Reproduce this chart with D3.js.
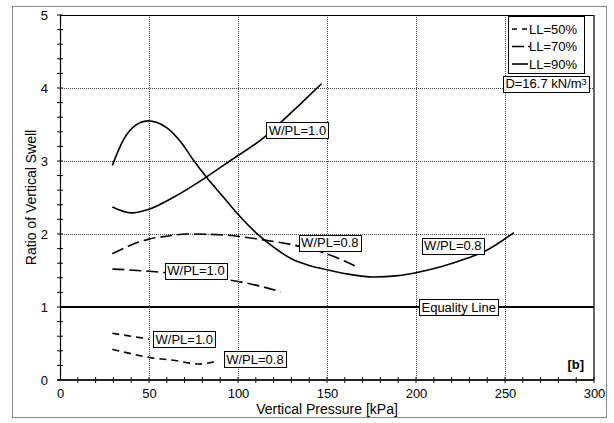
<!DOCTYPE html>
<html>
<head>
<meta charset="utf-8">
<script src="https://cdn.jsdelivr.net/npm/d3@7"></script>
<style>
  body { margin: 0; background: #fff; }
  text { font-family: Arial, 'Liberation Sans', sans-serif; fill: #000; }
  .axis text { font-size: 13px; }
  .axis-label { font-size: 14px; }
  .note text { font-size: 13px; }
</style>
</head>
<body>
<div id="chart-container"></div>
<script>
// tick values
const xTicks = [0, 50, 100, 150, 200, 250, 300]
const yTicks = [0, 1, 2, 3, 4, 5]

// LL=90% (solid)
const ll90Wpl08 = [
  [29.4, 2.94], [35.4, 3.28], [41, 3.46], [49.4, 3.55], [59.7, 3.46], [68.2, 3.25],
  [74.7, 3.02], [82.2, 2.78], [92, 2.5], [100, 2.27], [110, 2.02], [120, 1.82],
  [130, 1.66], [140, 1.57], [150, 1.51], [162, 1.45], [176, 1.41], [190, 1.43],
  [200, 1.47], [214, 1.55], [229, 1.67], [240, 1.78], [255, 2.02]
]
const ll90Wpl10 = [
  [29.4, 2.37], [40, 2.29], [50, 2.34], [63.5, 2.5], [82.2, 2.78], [96, 3.01],
  [115.5, 3.34], [124, 3.53], [135, 3.78], [147, 4.06]
]

// LL=70% (long dash)
const ll70Wpl08 = [
  [29.4, 1.73], [40, 1.85], [50, 1.93], [60, 1.97], [71, 2.0], [90, 1.99],
  [114, 1.92], [131, 1.85], [146, 1.76], [157, 1.66], [167, 1.55]
]
const ll70Wpl10 = [
  [29.4, 1.52], [50, 1.49], [75, 1.43], [95, 1.37], [110, 1.3], [124, 1.21]
]

// LL=50% (short dash)
const ll50Wpl10 = [[29.4, 0.64], [40, 0.6], [50, 0.56]]
const ll50Wpl08 = [
  [29.4, 0.42], [40, 0.36], [50, 0.31], [63.5, 0.27], [78.5, 0.22], [87.8, 0.26]
]

const legendLabels = ['LL=50%', 'LL=70%', 'LL=90%']

// boxed notes, placed in data units
const notes = [
  { text: 'W/PL=1.0', x: 133.4, y: 3.42 },
  { text: 'W/PL=0.8', x: 151.6, y: 1.88 },
  { text: 'W/PL=0.8', x: 220.7, y: 1.84 },
  { text: 'W/PL=1.0', x: 76.4, y: 1.5 },
  { text: 'W/PL=1.0', x: 69.8, y: 0.56 },
  { text: 'W/PL=0.8', x: 109.5, y: 0.285 },
  { text: 'Equality Line', x: 224, y: 1 }
]

const swellChart = () => {
  const margin = { top: 15, right: 20, bottom: 43, left: 60 }
  const width = 614 - margin.left - margin.right
  const height = 423 - margin.top - margin.bottom

  const root = d3
    .select('#chart-container')
    .append('svg')
    .attr('width', 614)
    .attr('height', 423)

  // outer frame
  root
    .append('rect')
    .attr('x', 12.5)
    .attr('y', 6.5)
    .attr('width', 594)
    .attr('height', 411)
    .attr('fill', 'none')
    .attr('stroke', '#888')
    .attr('stroke-width', 1)

  const svg = root.append('g').attr('transform', `translate(${margin.left}, ${margin.top})`)

  const xScale = d3.scaleLinear().domain([0, 300]).range([0, width])
  const yScale = d3.scaleLinear().domain([0, 5]).range([height, 0])

  // dotted grid
  svg
    .selectAll('.vgrid')
    .data(xTicks.slice(1, -1))
    .join('line')
    .attr('x1', (d) => xScale(d) + 0.5)
    .attr('x2', (d) => xScale(d) + 0.5)
    .attr('y1', 0)
    .attr('y2', height)
    .attr('stroke', '#444')
    .attr('stroke-dasharray', '1,1')

  svg
    .selectAll('.hgrid')
    .data([2, 3, 4])
    .join('line')
    .attr('x1', 0)
    .attr('x2', width)
    .attr('y1', (d) => yScale(d) + 0.5)
    .attr('y2', (d) => yScale(d) + 0.5)
    .attr('stroke', '#444')
    .attr('stroke-dasharray', '1,1')

  // top and right frame of the plot
  svg
    .append('path')
    .attr('d', `M0,0.5H${width}V${height}`)
    .attr('fill', 'none')
    .attr('stroke', '#000')
    .attr('stroke-width', 1.2)

  // equality line
  svg
    .append('line')
    .attr('x1', 0)
    .attr('x2', width)
    .attr('y1', yScale(1))
    .attr('y2', yScale(1))
    .attr('stroke', '#000')
    .attr('stroke-width', 2)

  // curves
  const line = d3
    .line()
    .x((d) => xScale(d[0]))
    .y((d) => yScale(d[1]))
    .curve(d3.curveMonotoneX)

  const series = [
    { data: ll90Wpl08, dash: null },
    { data: ll90Wpl10, dash: null },
    { data: ll70Wpl08, dash: '12,5' },
    { data: ll70Wpl10, dash: '12,5' },
    { data: ll50Wpl10, dash: '7,5' },
    { data: ll50Wpl08, dash: '7,5' }
  ]

  svg
    .selectAll('.curve')
    .data(series)
    .join('path')
    .attr('class', 'curve')
    .attr('d', (d) => line(d.data))
    .attr('fill', 'none')
    .attr('stroke', '#000')
    .attr('stroke-width', 1.6)
    .attr('stroke-dasharray', (d) => d.dash)

  // axes: labels from d3 axes, crossing ticks drawn by hand
  const xAxis = svg
    .append('g')
    .attr('class', 'axis')
    .attr('transform', `translate(0, ${height})`)
    .call(d3.axisBottom(xScale).tickValues(xTicks).tickSize(0).tickPadding(9))
  xAxis.select('.domain').remove()

  const yAxis = svg
    .append('g')
    .attr('class', 'axis')
    .call(d3.axisLeft(yScale).tickValues(yTicks).tickFormat(d3.format('d')).tickSize(0).tickPadding(12))
  yAxis.select('.domain').remove()

  svg
    .selectAll('.xtick')
    .data(d3.range(10, 301, 10))
    .join('line')
    .attr('x1', (d) => xScale(d))
    .attr('x2', (d) => xScale(d))
    .attr('y1', height - 3)
    .attr('y2', height + 3)
    .attr('stroke', '#000')

  svg
    .selectAll('.ytick')
    .data(d3.range(0.2, 5.01, 0.2))
    .join('line')
    .attr('x1', -3)
    .attr('x2', 3)
    .attr('y1', (d) => yScale(d))
    .attr('y2', (d) => yScale(d))
    .attr('stroke', '#000')

  svg
    .append('line')
    .attr('x1', 0.5)
    .attr('x2', 0.5)
    .attr('y1', 0)
    .attr('y2', height)
    .attr('stroke', '#000')
    .attr('stroke-width', 1.2)

  svg
    .append('line')
    .attr('x1', -3)
    .attr('x2', width)
    .attr('y1', height)
    .attr('y2', height)
    .attr('stroke', '#222')
    .attr('stroke-width', 2)

  // boxed notes
  const boxed = (g, x, y, build) => {
    const t = g.append('text').attr('x', x).attr('y', y).attr('dy', '0.35em').style('text-anchor', 'middle')
    build(t)
    const b = t.node().getBBox()
    g.insert('rect', 'text')
      .attr('x', Math.round(b.x - 2.5) + 0.5)
      .attr('y', Math.round(b.y - 0.5) + 0.5)
      .attr('width', Math.round(b.width + 5))
      .attr('height', Math.round(b.height + 1))
      .attr('fill', '#fff')
      .attr('stroke', '#000')
  }

  notes.forEach((n) => {
    const g = svg.append('g').attr('class', 'note')
    boxed(g, xScale(n.x), yScale(n.y), (t) => t.text(n.text))
  })

  // density note
  const dg = svg.append('g').attr('class', 'note')
  boxed(dg, width - 48, yScale(4.06), (t) => {
    t.append('tspan').text('D=16.7 kN/m')
    t.append('tspan').attr('dy', '-0.35em').style('font-size', '9px').text('3')
  })

  // legend
  const legend = svg.append('g').attr('class', 'note').attr('transform', `translate(${width - 86}, 1)`)
  legend
    .append('rect')
    .attr('x', 0.5)
    .attr('y', 0.5)
    .attr('width', 76)
    .attr('height', 57)
    .attr('fill', '#fff')
    .attr('stroke', '#000')
  const legendDash = ['5,5', '12,4,2,8', null]
  legendLabels.forEach((label, i) => {
    const yy = 13 + i * 17.5
    legend
      .append('line')
      .attr('x1', 4)
      .attr('x2', i === 1 ? 22 : 20)
      .attr('y1', yy)
      .attr('y2', yy)
      .attr('stroke', '#000')
      .attr('stroke-width', 1.6)
      .attr('stroke-dasharray', legendDash[i])
    legend
      .append('text')
      .attr('x', 21)
      .attr('y', yy)
      .attr('dy', '0.35em')
      .text(label)
  })

  // [b]
  svg
    .append('text')
    .attr('x', width - 10)
    .attr('y', height - 11)
    .style('text-anchor', 'end')
    .style('font-size', '13px')
    .style('font-weight', 'bold')
    .text('[b]')

  // axis titles
  svg
    .append('text')
    .attr('class', 'axis-label')
    .attr('x', width / 2)
    .attr('y', height + 34)
    .style('text-anchor', 'middle')
    .text('Vertical Pressure [kPa]')

  svg
    .append('text')
    .attr('class', 'axis-label')
    .attr('x', -height / 2)
    .attr('y', -24)
    .attr('transform', 'rotate(-90)')
    .style('text-anchor', 'middle')
    .text('Ratio of Vertical Swell')
}

swellChart()
</script>
</body>
</html>
